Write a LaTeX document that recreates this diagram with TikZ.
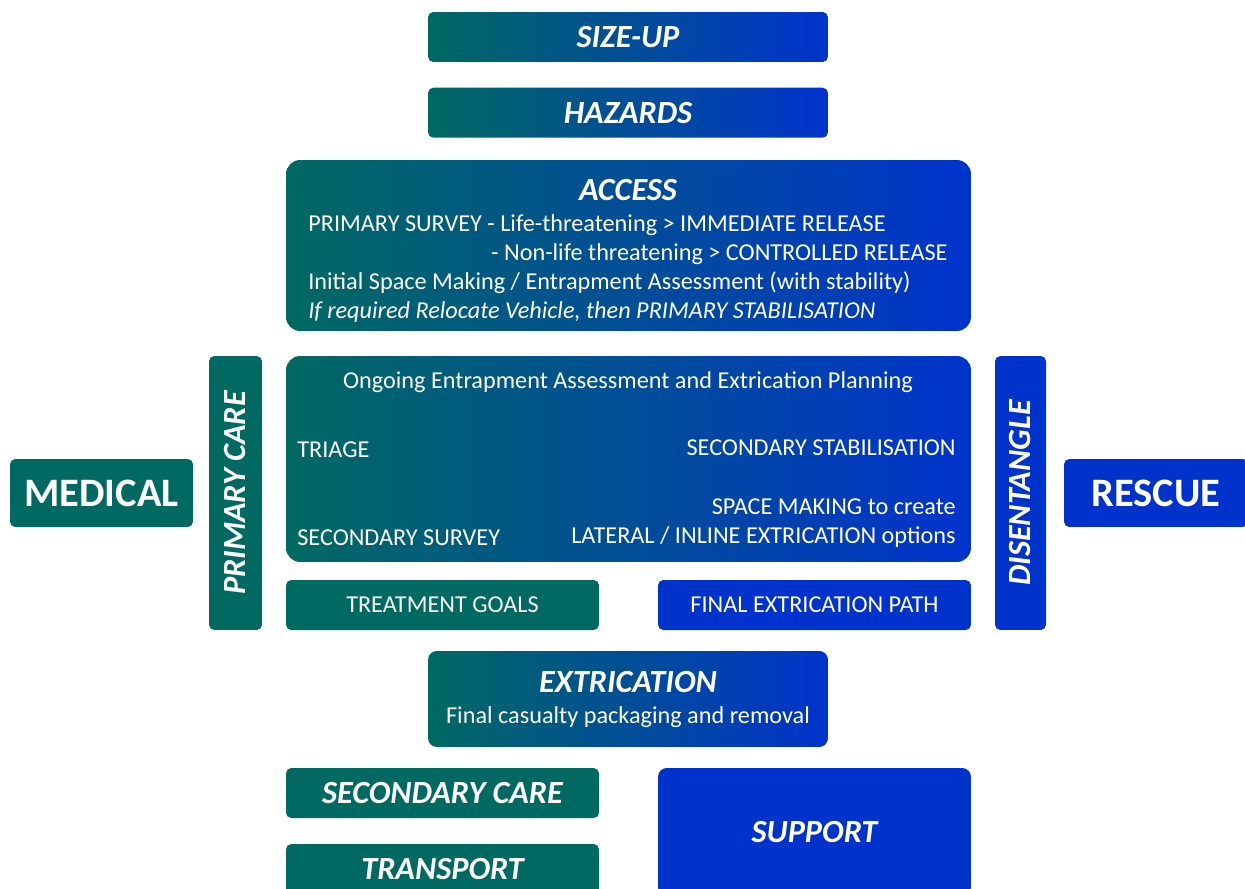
\documentclass[tikz,border=0pt]{standalone}
\usepackage{fontspec}
\setmainfont{Carlito}
\usetikzlibrary{positioning}
\definecolor{rteal}{RGB}{0,105,97}
\definecolor{rblue}{RGB}{0,51,204}
\newcommand{\titlefont}{\fontsize{18.4}{22}\selectfont\bfseries\itshape}
\newcommand{\linefont}{\fontsize{13.8}{16}\selectfont}
\newcommand{\sidefont}{\fontsize{23}{27}\selectfont\bfseries}
\tikzset{
  gradbox/.style={rectangle, rounded corners=3pt, left color=rteal, right color=rblue, text=white, inner sep=0pt, font=\titlefont},
  bigbox/.style={gradbox, rounded corners=8pt},
  tealbox/.style={rectangle, rounded corners=3pt, fill=rteal, text=white, inner sep=0pt, font=\titlefont},
  bluebox/.style={rectangle, rounded corners=3pt, fill=rblue, text=white, inner sep=0pt, font=\titlefont},
  title/.style={text=white, inner sep=0pt, font=\titlefont},
  textline/.style={text=white, inner sep=0pt, font=\linefont},
}
\begin{document}
\begin{tikzpicture}[x=0.02cm, y=-0.02cm]
      %
      \useasboundingbox (0,0) rectangle (1245,889);
      %
      % Size-up --> Hazards
      %
      \node[gradbox, minimum width=8cm, minimum height=1cm] (sizeup) at (628,37) {SIZE-UP};
      \node[gradbox, minimum width=8cm, minimum height=1cm, below=0.5cm of sizeup] (hazards) {HAZARDS};
      %
      % Access
      %
      \node[bigbox, minimum width=13.7cm, minimum height=3.42cm] (access) at (628.5,245.5) {};
      \node[title, anchor=base] (accesstitle) at (628,200) {ACCESS};
      \node[textline, anchor=base west] (survey) at (308,231) {PRIMARY SURVEY - Life-threatening > IMMEDIATE RELEASE};
      \node[textline, anchor=base east] (release) at (948,260) {- Non-life threatening > CONTROLLED RELEASE};
      \node[textline, anchor=base west] (spacemaking) at (308,289) {Initial Space Making / Entrapment Assessment (with stability)};
      \node[textline, anchor=base west, font=\linefont\itshape] (relocate) at (308,318) {If required Relocate Vehicle, then PRIMARY STABILISATION};
      %
      % Ongoing assessment
      %
      \node[bigbox, minimum width=13.7cm, minimum height=4.12cm] (planning) at (628.5,459) {};
      \node[textline, anchor=base] (ongoing) at (628,388) {Ongoing Entrapment Assessment and Extrication Planning};
      \node[textline, anchor=base west] (triage) at (297,457) {TRIAGE};
      \node[textline, anchor=base west] (secsurvey) at (297,545) {SECONDARY SURVEY};
      \node[textline, anchor=base east] (stabilise) at (956,455) {SECONDARY STABILISATION};
      \node[textline, anchor=base east] (create) at (956,514) {SPACE MAKING to create};
      \node[textline, anchor=base east] (options) at (956,543) {LATERAL / INLINE EXTRICATION options};
      %
      % Medical side
      %
      \node[tealbox, font=\sidefont, minimum width=3.66cm, minimum height=1.36cm] (medical) at (101.5,493) {MEDICAL};
      \node[tealbox, minimum width=1.06cm, minimum height=5.48cm] (primarycare) at (235.5,493) {};
      \node[title, rotate=90] (primarylabel) at (primarycare.center) {PRIMARY CARE};
      \node[tealbox, font=\linefont, minimum width=6.26cm, minimum height=1cm] (goals) at (442.5,605) {TREATMENT GOALS};
      %
      % Rescue side
      %
      \node[bluebox, font=\sidefont, minimum width=3.68cm, minimum height=1.36cm] (rescue) at (1156,493) {RESCUE};
      \node[bluebox, minimum width=1.02cm, minimum height=5.48cm] (disentangle) at (1020.5,493) {};
      \node[title, rotate=90] (disentanglelabel) at (disentangle.center) {DISENTANGLE};
      \node[bluebox, font=\linefont, minimum width=6.26cm, minimum height=1cm] (path) at (814.5,605) {FINAL EXTRICATION PATH};
      %
      % Extrication
      %
      \node[gradbox, rounded corners=5pt, minimum width=8cm, minimum height=1.92cm] (extrication) at (628,699) {};
      \node[title, anchor=base] (extricationtitle) at (628,692) {EXTRICATION};
      \node[textline, anchor=base] (removal) at (628,723) {Final casualty packaging and removal};
      %
      % Secondary care, transport, support
      %
      \node[tealbox, minimum width=6.26cm, minimum height=1cm] (seccare) at (442.5,793) {SECONDARY CARE};
      \node[tealbox, minimum width=6.26cm, minimum height=1cm] (transport) at (442.5,869) {TRANSPORT};
      \node[bluebox, rounded corners=5pt, minimum width=6.26cm, minimum height=2.56cm] (support) at (814.5,832) {SUPPORT};
      %
    \end{tikzpicture}
\end{document}
